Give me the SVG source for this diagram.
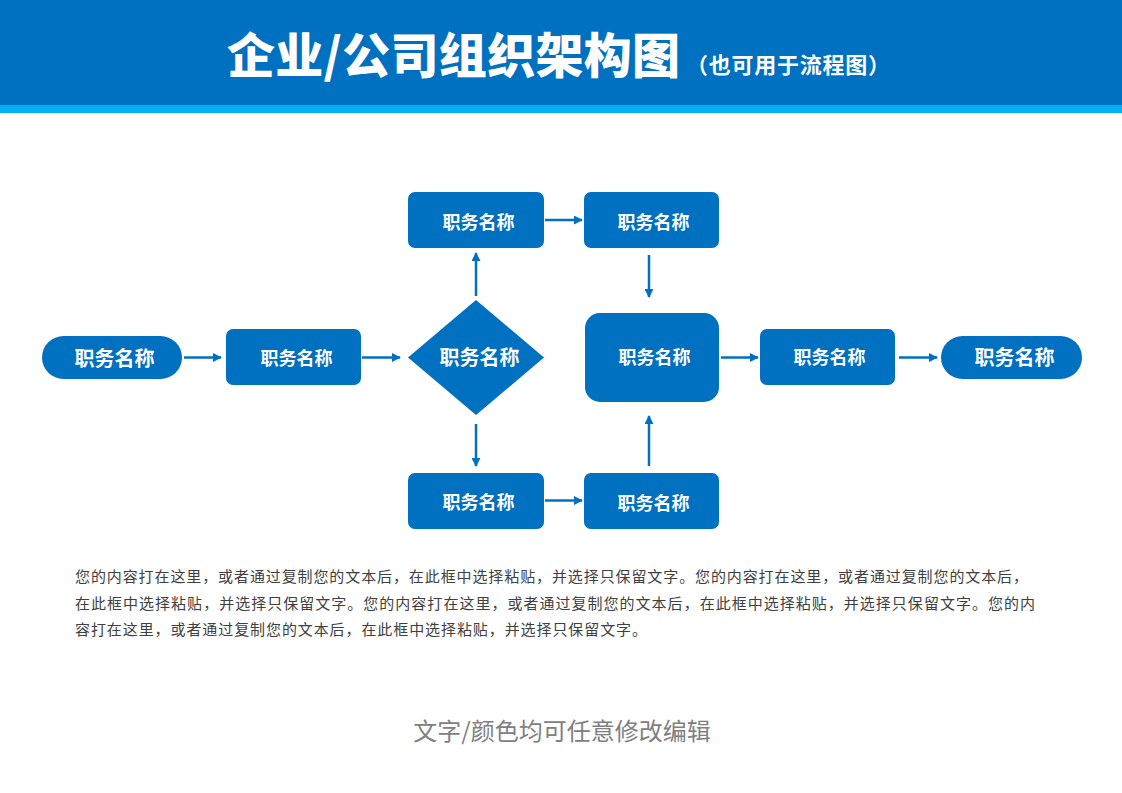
<svg xmlns="http://www.w3.org/2000/svg" width="1122" height="793" viewBox="0 0 1122 793">
<style>
.node{fill:#0070C0}
.lbl{fill:#FFFFFF;font-family:"Noto Sans CJK SC","Noto Sans",sans-serif;font-weight:700;text-anchor:middle;dominant-baseline:central}
.s18{font-size:18px}
.s20{font-size:20px}
.conn line{stroke:#0070C0;stroke-width:2.5;marker-end:url(#ah)}
.body{fill:#404040;font-family:"Noto Sans CJK SC","Noto Sans",sans-serif;font-size:15px}
</style>
<defs>
<marker id="ah" viewBox="0 0 10 10" refX="9" refY="5" markerWidth="3.6" markerHeight="3.6" orient="auto" markerUnits="strokeWidth">
<path d="M0,0 L10,5 L0,10 Z" fill="#0070C0"/>
</marker>
</defs>
<rect width="1122" height="793" fill="#FFFFFF"/>
<g id="header">
<rect x="0" y="0" width="1122" height="105" fill="#0070C0"/>
<rect x="0" y="105" width="1122" height="8" fill="#00B0F0"/>
<text x="227" y="73" fill="#FFFFFF" font-family="'Noto Sans CJK SC','Noto Sans',sans-serif" font-weight="900" font-size="48" textLength="453" lengthAdjust="spacing">企业/公司组织架构图</text>
<text x="686" y="73" fill="#FFFFFF" font-family="'Noto Sans CJK SC','Noto Sans',sans-serif" font-weight="700" font-size="22" textLength="204" lengthAdjust="spacing">（也可用于流程图）</text>
</g>
<g id="n1"><rect class="node" x="42" y="336" width="140" height="43" rx="21.5"/><text class="lbl s20" x="114.5" y="357">职务名称</text></g>
<g id="n2"><rect class="node" x="226" y="329" width="135" height="56" rx="7"/><text class="lbl s18" x="296.5" y="357">职务名称</text></g>
<g id="n3"><polygon class="node" points="476,300 544,357.5 476,415 408,357.5"/><text class="lbl s20" x="479.5" y="356">职务名称</text></g>
<g id="n4"><rect class="node" x="408" y="192" width="136" height="56" rx="7"/><text class="lbl s18" x="478.5" y="221">职务名称</text></g>
<g id="n5"><rect class="node" x="584" y="192" width="135" height="56" rx="7"/><text class="lbl s18" x="653.5" y="221">职务名称</text></g>
<g id="n6"><rect class="node" x="585" y="313" width="134" height="89" rx="15"/><text class="lbl s18" x="654.5" y="356">职务名称</text></g>
<g id="n7"><rect class="node" x="408" y="473" width="136" height="56" rx="7"/><text class="lbl s18" x="478.5" y="501">职务名称</text></g>
<g id="n8"><rect class="node" x="584" y="473" width="135" height="56" rx="7"/><text class="lbl s18" x="653.5" y="502">职务名称</text></g>
<g id="n9"><rect class="node" x="760" y="329" width="135" height="56" rx="7"/><text class="lbl s18" x="829.5" y="356">职务名称</text></g>
<g id="n10"><rect class="node" x="941" y="336" width="141" height="43" rx="21.5"/><text class="lbl s20" x="1014.5" y="356">职务名称</text></g>
<g id="connectors" class="conn">
<line x1="184" y1="357.5" x2="221" y2="357.5"/>
<line x1="362" y1="357.5" x2="400" y2="357.5"/>
<line x1="476" y1="296" x2="476" y2="253"/>
<line x1="476" y1="424" x2="476" y2="466"/>
<line x1="545" y1="220" x2="582" y2="220"/>
<line x1="545" y1="500.5" x2="582" y2="500.5"/>
<line x1="649" y1="255" x2="649" y2="297"/>
<line x1="649" y1="466" x2="649" y2="416"/>
<line x1="721" y1="357.5" x2="758" y2="357.5"/>
<line x1="899" y1="357.5" x2="937" y2="357.5"/>
</g>
<g id="desc">
<text class="body" x="75" y="582" textLength="953" lengthAdjust="spacing">您的内容打在这里，或者通过复制您的文本后，在此框中选择粘贴，并选择只保留文字。您的内容打在这里，或者通过复制您的文本后，</text>
<text class="body" x="75" y="609" textLength="960" lengthAdjust="spacing">在此框中选择粘贴，并选择只保留文字。您的内容打在这里，或者通过复制您的文本后，在此框中选择粘贴，并选择只保留文字。您的内</text>
<text class="body" x="75" y="635" textLength="572" lengthAdjust="spacing">容打在这里，或者通过复制您的文本后，在此框中选择粘贴，并选择只保留文字。</text>
</g>
<g id="footer">
<text x="562" y="740" fill="#808080" font-family="'Noto Sans CJK SC','Noto Sans',sans-serif" font-size="24" text-anchor="middle">文字/颜色均可任意修改编辑</text>
</g>
</svg>
